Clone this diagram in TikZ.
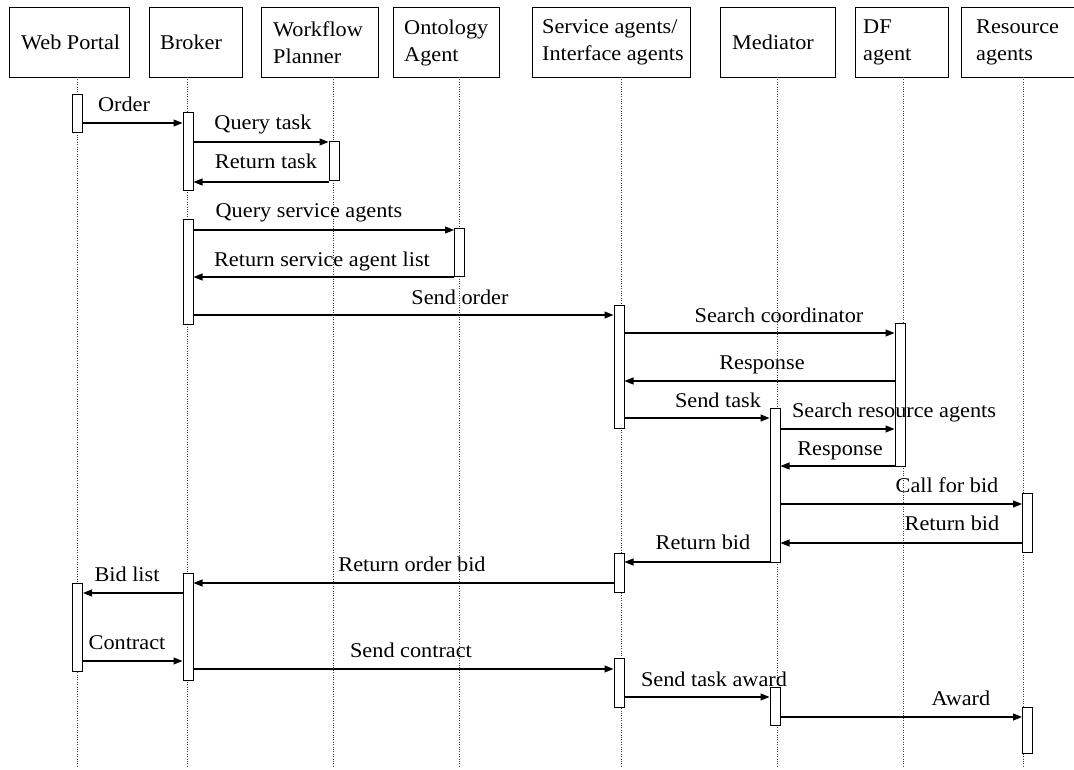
\documentclass[tikz,border=0pt]{standalone}
\usepackage{fontspec}
\setmainfont{Liberation Serif}[FakeStretch=1.06]
\usetikzlibrary{arrows.meta}
\begin{document}
\begin{tikzpicture}[x=1pt,y=-1pt,
  hbox/.style={draw, line width=1pt, minimum height=70pt, anchor=north west, inner sep=0pt},
  htxt/.style={anchor=west, align=left, inner sep=0pt, font=\fontsize{21}{27}\selectfont},
  life/.style={line width=0.7pt, black!75, dash pattern=on 1pt off 1.4pt},
  bar/.style={draw, fill=white, line width=1pt, minimum width=10pt, inner sep=0pt},
  msg/.style={line width=1.1pt, -{Triangle[length=9pt,width=7pt]}},
  lbl/.style={anchor=base, inner sep=0pt, font=\fontsize{21}{25}\selectfont}]
\useasboundingbox (0,0) rectangle (1074,770);
\fill[white] (0,0) rectangle (1074,770);

% header boxes
\node[hbox, minimum width=120pt] (hwp) at (9,7) {};
\node[hbox, minimum width=93pt]  (hbr) at (149,7) {};
\node[hbox, minimum width=117pt] (hwf) at (261,7) {};
\node[hbox, minimum width=106pt] (hon) at (393,7) {};
\node[hbox, minimum width=158pt] (hsv) at (532,7) {};
\node[hbox, minimum width=115pt] (hmd) at (720,7) {};
\node[hbox, minimum width=93pt]  (hdf) at (855,7) {};
\node[hbox, minimum width=130pt] (hrs) at (961,7) {};
% header texts
\node[htxt] (twp) at ([xshift=12pt]hwp.west) {Web Portal};
\node[htxt] (tbr) at ([xshift=11pt]hbr.west) {Broker};
\node[htxt] (twf) at ([xshift=12pt]hwf.west) {Workflow\\Planner};
\node[htxt] (ton) at ([xshift=11pt]hon.west) {Ontology\\Agent};
\node[htxt] (tsv) at ([xshift=10pt]hsv.west) {Service agents/\\Interface agents};
\node[htxt] (tmd) at ([xshift=12pt]hmd.west) {Mediator};
\node[htxt] (tdf) at ([xshift=8pt]hdf.west) {DF\\agent};
\node[htxt] (trs) at ([xshift=15pt]hrs.west) {Resource\\agents};

% lifelines
\foreach \n/\x in {wp/77,br/187,wf/333,on/459,sv/621,md/777,df/903,rs/1023}{
  \coordinate (S\n) at (\x,77);
  \coordinate (E\n) at (\x,768);
  \draw[life] (S\n) -- (E\n);
}

% activation bars
\node[bar, minimum height=38pt]  (wp1) at (77.5,114) {};
\node[bar, minimum height=88pt]  (wp2) at (77.5,627) {};
\node[bar, minimum height=78pt]  (br1) at (188,152) {};
\node[bar, minimum height=104pt] (br2) at (188,272) {};
\node[bar, minimum height=107pt] (br3) at (188,626.5) {};
\node[bar, minimum height=39pt]  (wf1) at (334,161.5) {};
\node[bar, minimum height=48pt]  (on1) at (459.5,253) {};
\node[bar, minimum height=123pt] (sv1) at (619,366.5) {};
\node[bar, minimum height=39pt]  (sv2) at (619,572.5) {};
\node[bar, minimum height=49pt]  (sv3) at (619,682.5) {};
\node[bar, minimum height=154pt] (md1) at (775,485) {};
\node[bar, minimum height=38pt]  (md2) at (775,706) {};
\node[bar, minimum height=143pt] (df1) at (900,394.5) {};
\node[bar, minimum height=59pt]  (rs1) at (1027.5,522.5) {};
\node[bar, minimum height=46pt]  (rs2) at (1027.5,730) {};

% messages
\draw[msg] (wp1.east |- 0,123) -- (br1.west |- 0,123);
\draw[msg] (br1.east |- 0,142) -- (wf1.west |- 0,142);
\draw[msg] (wf1.west |- 0,182) -- (br1.east |- 0,182);
\draw[msg] (br2.east |- 0,230) -- (on1.west |- 0,230);
\draw[msg] (on1.west |- 0,277) -- (br2.east |- 0,277);
\draw[msg] (br2.east |- 0,315) -- (sv1.west |- 0,315);
\draw[msg] (sv1.east |- 0,333) -- (df1.west |- 0,333);
\draw[msg] (df1.west |- 0,381) -- (sv1.east |- 0,381);
\draw[msg] (sv1.east |- 0,418) -- (md1.west |- 0,418);
\draw[msg] (md1.east |- 0,429) -- (df1.west |- 0,429);
\draw[msg] (df1.west |- 0,466) -- (md1.east |- 0,466);
\draw[msg] (md1.east |- 0,504) -- (rs1.west |- 0,504);
\draw[msg] (rs1.west |- 0,543) -- (md1.east |- 0,543);
\draw[msg] (md1.west |- 0,562) -- (sv2.east |- 0,562);
\draw[msg] (sv2.west |- 0,583) -- (br3.east |- 0,583);
\draw[msg] (br3.west |- 0,593) -- (wp2.east |- 0,593);
\draw[msg] (wp2.east |- 0,661) -- (br3.west |- 0,661);
\draw[msg] (br3.east |- 0,669) -- (sv3.west |- 0,669);
\draw[msg] (sv3.east |- 0,697) -- (md2.west |- 0,697);
\draw[msg] (md2.east |- 0,717) -- (rs2.west |- 0,717);

% message labels
\node[lbl] (m1)  at (124,112) {Order};
\node[lbl] (m2)  at (263,130) {Query task};
\node[lbl] (m3)  at (266,169) {Return task};
\node[lbl] (m4)  at (309,218) {Query service agents};
\node[lbl] (m5)  at (322,267) {Return service agent list};
\node[lbl] (m6)  at (460,304) {Send order};
\node[lbl] (m7)  at (779,322) {Search coordinator};
\node[lbl] (m8)  at (762,369) {Response};
\node[lbl] (m9)  at (718,407) {Send task};
\node[lbl] (m10) at (894,417) {Search resource agents};
\node[lbl] (m11) at (840,455) {Response};
\node[lbl] (m12) at (947,492) {Call for bid};
\node[lbl] (m13) at (952,530) {Return bid};
\node[lbl] (m14) at (703,549) {Return bid};
\node[lbl] (m15) at (412,571) {Return order bid};
\node[lbl] (m16) at (127,581) {Bid list};
\node[lbl] (m17) at (127,649) {Contract};
\node[lbl] (m18) at (411,657) {Send contract};
\node[lbl] (m19) at (714,686) {Send task award};
\node[lbl] (m20) at (961,705) {Award};
\end{tikzpicture}
\end{document}
